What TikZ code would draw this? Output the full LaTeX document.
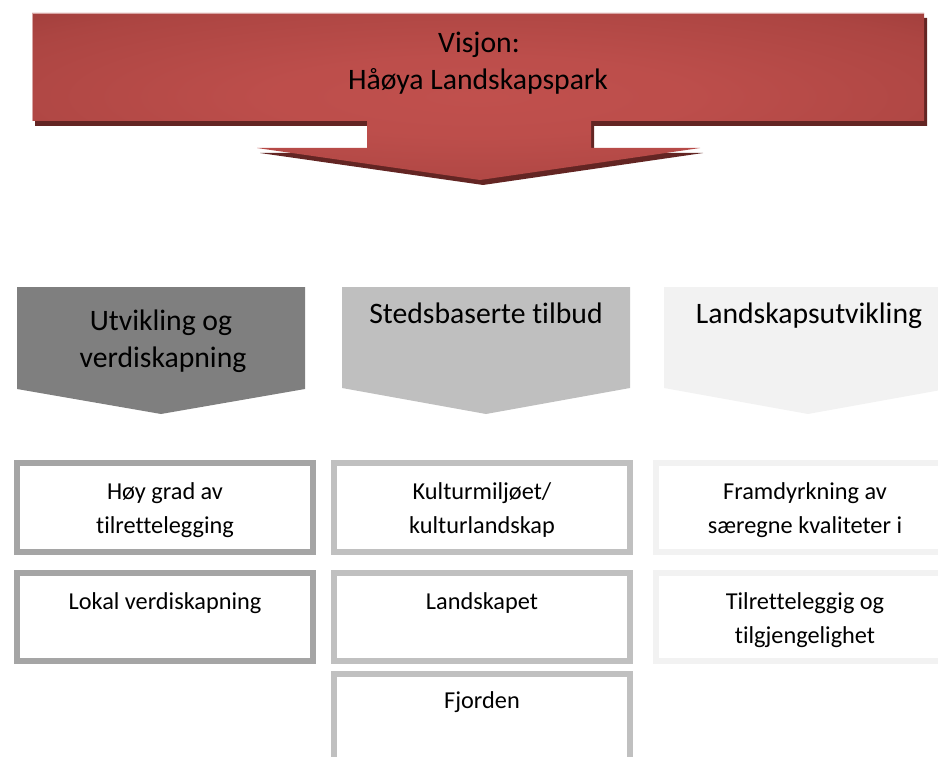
\documentclass[tikz,border=0pt]{standalone}
\usepackage{fontspec}
\setmainfont{Carlito}[RawFeature={-liga;-clig;-dlig}]
\definecolor{bLight}{HTML}{C0504D}
\definecolor{bMid}{HTML}{AC4542}
\definecolor{bDark}{HTML}{943634}
\definecolor{bShadow}{HTML}{632523}
\definecolor{bEdge}{HTML}{D8A5A4}
\definecolor{gDark}{HTML}{7F7F7F}
\definecolor{gMid}{HTML}{BFBFBF}
\definecolor{gLight}{HTML}{F2F2F2}
\definecolor{bdDark}{HTML}{A5A5A5}
\definecolor{bdMid}{HTML}{C0C0C0}
\pgfdeclareradialshading{bannershade}{\pgfpoint{0bp}{0bp}}{color(0bp)=(bLight); color(12bp)=(bLight!92!bDark); color(30bp)=(bMid); color(45bp)=(bDark); color(50bp)=(bDark)}
\begin{document}
\begin{tikzpicture}[x=1pt,y=-1pt,
  bigtxt/.style={font=\fontsize{29.7}{36}\selectfont, anchor=base, inner sep=0pt},
  smalltxt/.style={font=\fontsize{24.3}{33}\selectfont, anchor=base, inner sep=0pt},
  boxdark/.style={draw=bdDark, line width=6pt, fill=white},
  boxmid/.style={draw=bdMid, line width=6pt, fill=white},
  boxlight/.style={draw=gLight, line width=6pt, fill=white}]
\useasboundingbox (0,0) rectangle (938,757);
\clip (0,0) rectangle (938,757);
% banner arrow shadow
\fill[bShadow] ([shift={(3,5)}]32,13) -- ([shift={(3,5)}]924,13) -- ([shift={(3,5)}]924,121) -- ([shift={(3,5)}]591,121) -- ([shift={(3,5)}]591,148) -- ([shift={(3,5)}]700,148) -- ([shift={(3,5)}]480,180) -- ([shift={(3,5)}]257,148) -- ([shift={(3,5)}]367,148) -- ([shift={(3,5)}]367,121) -- ([shift={(3,5)}]32,121) -- cycle;
% banner arrow
\shade[shading=bannershade] (32,13) -- (924,13) -- (924,121) -- (591,121) -- (591,148) -- (700,148) -- (480,180) -- (257,148) -- (367,148) -- (367,121) -- (32,121) -- cycle;
\draw[bEdge, line width=0.8pt] (32,121) -- (32,13) -- (924,13);
\node[bigtxt] (vis1) at (479,53) {Visjon:};
\node[bigtxt] (vis2) at (478,90) {Håøya Landskapspark};
% chevrons
\fill[gDark] (17,287) -- (305,287) -- (305,389) -- (161,414) -- (17,389) -- cycle;
\fill[gMid] (342,287) -- (630,287) -- (630,388) -- (486,414) -- (342,388) -- cycle;
\fill[gLight] (664,287) -- (952,287) -- (952,388) -- (808,414) -- (664,388) -- cycle;
\node[bigtxt] (c1a) at (161,330) {Utvikling og};
\node[bigtxt] (c1b) at (163,367) {verdiskapning};
\node[bigtxt] (c2) at (486,323) {Stedsbaserte tilbud};
\node[bigtxt] (c3) at (809,323) {Landskapsutvikling};
% lower boxes
\draw[boxdark] (16.5,463) rectangle (313,552);
\draw[boxdark] (16.5,573) rectangle (313,661);
\draw[boxmid] (334,463) rectangle (630,552);
\draw[boxmid] (334,573) rectangle (630,661);
\draw[boxmid] (334,674) rectangle (630,790);
\draw[boxlight] (656,463) rectangle (950,552);
\draw[boxlight] (656,573) rectangle (950,661);
% texts
\node[smalltxt] (t11a) at (165,499) {Høy grad av};
\node[smalltxt] (t11b) at (165,533) {tilrettelegging};
\node[smalltxt] (t12) at (165,609) {Lokal verdiskapning};
\node[smalltxt] (t21a) at (482,499) {Kulturmiljøet/};
\node[smalltxt] (t21b) at (482,533) {kulturlandskap};
\node[smalltxt] (t22) at (482,609) {Landskapet};
\node[smalltxt] (t23) at (482,708) {Fjorden};
\node[smalltxt] (t31a) at (805,499) {Framdyrkning av};
\node[smalltxt] (t31b) at (805,533) {særegne kvaliteter i};
\node[smalltxt] (t32a) at (805,609) {Tilretteleggig og};
\node[smalltxt] (t32b) at (805,643) {tilgjengelighet};
\end{tikzpicture}
\end{document}
